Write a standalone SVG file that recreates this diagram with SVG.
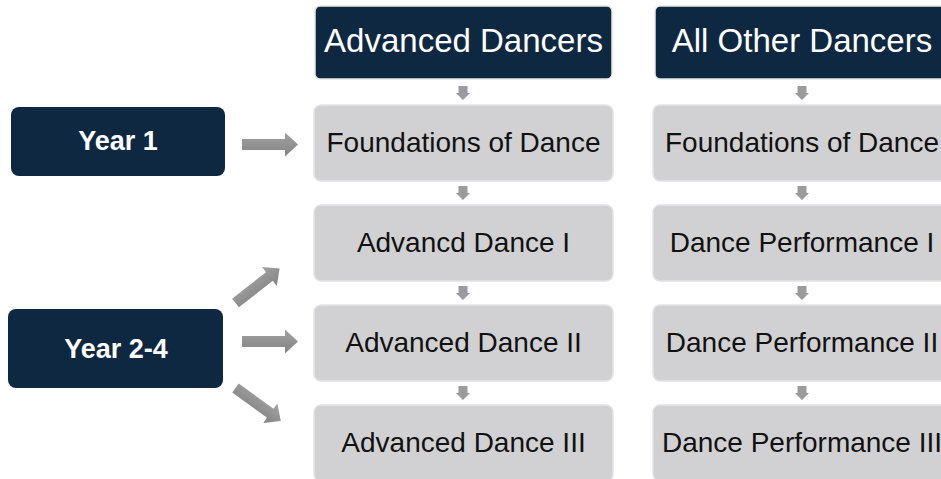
<svg xmlns="http://www.w3.org/2000/svg" width="941" height="479" viewBox="0 0 941 479">
<style>
.hdr{fill:#0e2841;stroke:#e6e6e8;stroke-width:1.5}
.box{fill:#d1d1d3;stroke:#e4e4e6;stroke-width:1.5}
.yr{fill:#0e2841}
.th{font-family:"Liberation Sans",Arial,sans-serif;font-size:33px;fill:#ffffff;text-anchor:middle}
.tb{font-family:"Liberation Sans",Arial,sans-serif;font-size:28px;fill:#111111;text-anchor:middle}
.ty{font-family:"Liberation Sans",Arial,sans-serif;font-size:27px;font-weight:bold;fill:#ffffff;text-anchor:middle}
.sm{fill:#9b9b9f}
.big{fill:url(#ag)}
</style>
<defs>
<linearGradient id="ag" x1="0" y1="0" x2="0" y2="1">
<stop offset="0" stop-color="#a2a2a2"/>
<stop offset="1" stop-color="#838383"/>
</linearGradient>
<path id="small" d="M-4.5,-13 H4.5 V-6 H7 L0,1 L-7,-6 H-4.5 Z"/>
<path id="bigarrow" d="M0,-5.5 H43 V-12 L56,0 L43,12 V5.5 H0 Z"/>
</defs>
<rect width="941" height="479" fill="#ffffff"/>

<g id="connectors">
<use href="#small" class="sm" x="463" y="99"/>
<use href="#small" class="sm" x="463" y="199"/>
<use href="#small" class="sm" x="463" y="299"/>
<use href="#small" class="sm" x="463" y="399"/>
<use href="#small" class="sm" x="802" y="99"/>
<use href="#small" class="sm" x="802" y="199"/>
<use href="#small" class="sm" x="802" y="299"/>
<use href="#small" class="sm" x="802" y="399"/>
<use href="#bigarrow" class="big" transform="translate(242,144.5)"/>
<use href="#bigarrow" class="big" transform="translate(242,341.5)"/>
<use href="#bigarrow" class="big" transform="translate(235.5,303) rotate(-38)"/>
<use href="#bigarrow" class="big" transform="translate(235.5,388) rotate(36)"/>
</g>

<g id="year1">
<rect class="yr" x="11" y="107" width="214" height="69" rx="8"/>
<text class="ty" x="118" y="149.5">Year 1</text>
</g>
<g id="year24">
<rect class="yr" x="8" y="309" width="215" height="79" rx="8"/>
<text class="ty" x="116" y="357.5">Year 2-4</text>
</g>

<g id="advanced-dancers">
<rect class="hdr" x="315" y="6" width="297" height="73" rx="5"/>
<text class="th" x="463.5" y="52">Advanced Dancers</text>
</g>
<g id="adv-foundations">
<rect class="box" x="314" y="105" width="299" height="76" rx="7"/>
<text class="tb" x="463.5" y="152">Foundations of Dance</text>
</g>
<g id="adv-dance-1">
<rect class="box" x="314" y="205" width="299" height="76" rx="7"/>
<text class="tb" x="463.5" y="252">Advancd Dance I</text>
</g>
<g id="adv-dance-2">
<rect class="box" x="314" y="305" width="299" height="76" rx="7"/>
<text class="tb" x="463.5" y="352">Advanced Dance II</text>
</g>
<g id="adv-dance-3">
<rect class="box" x="314" y="405" width="299" height="76" rx="7"/>
<text class="tb" x="463.5" y="452">Advanced Dance III</text>
</g>

<g id="other-dancers">
<rect class="hdr" x="655" y="6" width="297" height="73" rx="5"/>
<text class="th" x="802" y="52">All Other Dancers</text>
</g>
<g id="oth-foundations">
<rect class="box" x="653" y="105" width="299" height="76" rx="7"/>
<text class="tb" x="802" y="152">Foundations of Dance</text>
</g>
<g id="perf-1">
<rect class="box" x="653" y="205" width="299" height="76" rx="7"/>
<text class="tb" x="802" y="252">Dance Performance I</text>
</g>
<g id="perf-2">
<rect class="box" x="653" y="305" width="299" height="76" rx="7"/>
<text class="tb" x="802" y="352">Dance Performance II</text>
</g>
<g id="perf-3">
<rect class="box" x="653" y="405" width="299" height="76" rx="7"/>
<text class="tb" x="802" y="452">Dance Performance III</text>
</g>
</svg>
